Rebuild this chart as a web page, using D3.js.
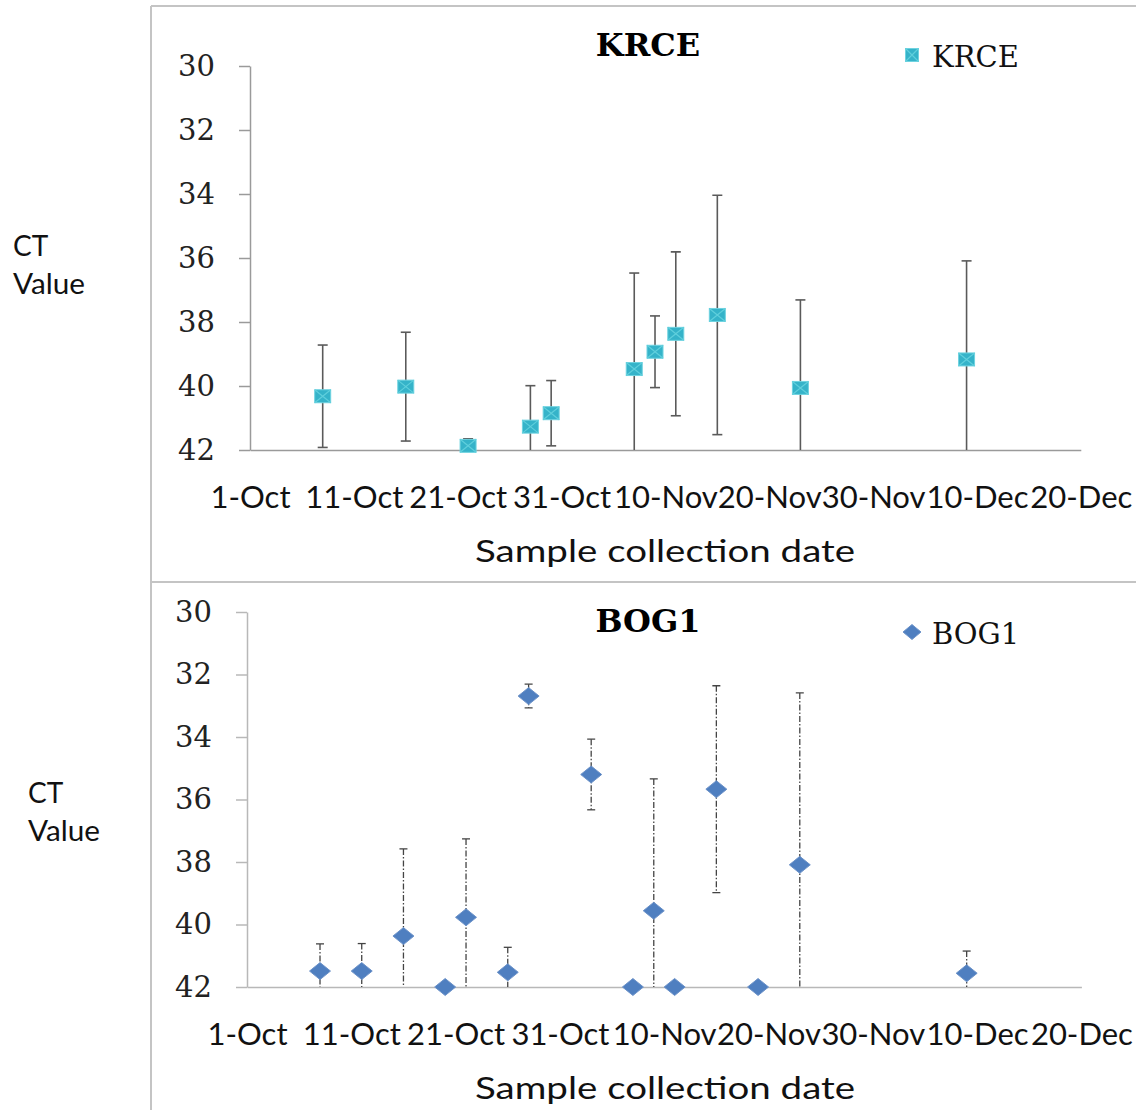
<!DOCTYPE html>
<html>
<head>
<meta charset="utf-8">
<script src="https://cdn.jsdelivr.net/npm/d3@7"></script>
<style>
  body { margin: 0; background: #fff; }
</style>
</head>
<body>
<script>
var svgWidth = 1136;
var svgHeight = 1110;

// Data
var tickLabels = ["1-Oct", "11-Oct", "21-Oct", "31-Oct", "10-Nov", "20-Nov", "30-Nov", "10-Dec", "20-Dec"];
var yTicks = [30, 32, 34, 36, 38, 40, 42];

var krceDates = ["8-Oct", "16-Oct", "22-Oct", "28-Oct", "30-Oct", "7-Nov", "9-Nov", "11-Nov", "15-Nov", "23-Nov", "9-Dec"];
var krceValues = [40.32, 40.02, 41.87, 41.27, 40.85, 39.47, 38.93, 38.37, 37.78, 40.06, 39.17];
var krceErrors = [1.6, 1.7, 0.22, 1.28, 1.02, 3.0, 1.12, 2.56, 3.74, 2.75, 3.08];

var bogDates = ["8-Oct", "12-Oct", "16-Oct", "20-Oct", "22-Oct", "26-Oct", "28-Oct", "3-Nov", "7-Nov", "9-Nov", "11-Nov", "15-Nov", "19-Nov", "23-Nov", "9-Dec"];
var bogValues = [41.49, 41.49, 40.37, 42, 39.77, 41.53, 32.69, 35.2, 42, 39.56, 42, 35.67, 42, 38.09, 41.56];
var bogErrors = [0.87, 0.88, 2.79, 0, 2.51, 0.8, 0.38, 1.13, 0, 4.22, 0, 3.31, 0, 5.5, 0.71];

var parseDate = d3.timeParse("%d-%b");
var formatDate = d3.timeFormat("%-d-%b");

var serif = "'DejaVu Serif', serif";
var sans = "Lato, 'Open Sans', sans-serif";

var svg = d3.select("body")
  .append("svg")
  .attr("width", svgWidth)
  .attr("height", svgHeight);

// panel frame lines
var frame = svg.append("g")
  .attr("stroke", "#c4c4c4")
  .attr("stroke-width", 2);
frame.append("line").attr("x1", 151).attr("x2", svgWidth).attr("y1", 6).attr("y2", 6);
frame.append("line").attr("x1", 151).attr("x2", 151).attr("y1", 6).attr("y2", svgHeight);
frame.append("line").attr("x1", 151).attr("x2", svgWidth).attr("y1", 582).attr("y2", 582);

function drawPanel(cfg) {
  var width = cfg.width;
  var height = cfg.height;

  var chartGroup = svg.append("g")
    .attr("transform", `translate(${cfg.left}, ${cfg.top})`);

  var xScale = d3.scaleTime()
    .domain([parseDate(tickLabels[0]), parseDate(tickLabels[tickLabels.length - 1])])
    .range([0, width]);

  var yScale = d3.scaleLinear()
    .domain([30, 42])
    .range([0, height]);

  // y axis
  var yAxis = chartGroup.append("g")
    .call(d3.axisLeft(yScale).tickValues(yTicks).tickSize(11).tickSizeOuter(0).tickPadding(24));
  yAxis.selectAll("path, line").attr("stroke", cfg.axisColor).attr("stroke-width", 1.5);
  yAxis.selectAll("text")
    .style("font-family", serif)
    .style("font-size", "29px")
    .attr("fill", "#222");

  // x axis
  var xAxis = chartGroup.append("g")
    .attr("transform", `translate(0, ${height})`)
    .call(d3.axisBottom(xScale)
      .tickValues(tickLabels.map(parseDate))
      .tickFormat(formatDate)
      .tickSize(0)
      .tickSizeOuter(0));
  xAxis.select(".domain").attr("stroke", cfg.axisColor).attr("stroke-width", 1.5);
  xAxis.selectAll("text")
    .attr("y", 58)
    .attr("dy", 0)
    .style("font-family", sans)
    .style("font-size", "31px")
    .attr("fill", "#111");

  // clip for error bars
  svg.append("clipPath")
    .attr("id", cfg.id + "-clip")
    .append("rect")
    .attr("x", -5)
    .attr("y", -5)
    .attr("width", width + 10)
    .attr("height", height + 5);

  var points = cfg.dates.map(function(d, i) {
    return { date: parseDate(d), value: cfg.values[i], err: cfg.errors[i] };
  });

  var bars = chartGroup.append("g")
    .attr("clip-path", `url(#${cfg.id}-clip)`)
    .attr("stroke", cfg.barColor)
    .attr("stroke-width", cfg.barWidth)
    .selectAll("g")
    .data(points.filter(d => d.err > 0))
    .enter()
    .append("g");

  bars.append("line")
    .attr("x1", d => xScale(d.date))
    .attr("x2", d => xScale(d.date))
    .attr("y1", d => yScale(d.value - d.err))
    .attr("y2", d => yScale(d.value + d.err))
    .attr("stroke-dasharray", cfg.dash);

  [-1, 1].forEach(function(s) {
    bars.append("line")
      .attr("x1", d => xScale(d.date) - cfg.cap)
      .attr("x2", d => xScale(d.date) + cfg.cap)
      .attr("y1", d => yScale(d.value + s * d.err))
      .attr("y2", d => yScale(d.value + s * d.err));
  });

  // markers
  var marks = chartGroup.selectAll(".mark")
    .data(points)
    .enter()
    .append("g")
    .classed("mark", true)
    .attr("transform", d => `translate(${xScale(d.date)}, ${yScale(d.value)})`);
  cfg.marker(marks);

  // title
  chartGroup.append("text")
    .attr("x", 648 - cfg.left)
    .attr("y", cfg.titleY - cfg.top)
    .attr("text-anchor", "middle")
    .style("font-family", serif)
    .style("font-weight", "bold")
    .style("font-size", "32px")
    .text(cfg.name);

  // legend
  var legend = svg.append("g")
    .attr("transform", `translate(912, ${cfg.legendY})`);
  cfg.marker(legend.append("g"), true);
  legend.append("text")
    .attr("x", 20)
    .attr("y", 12)
    .style("font-family", serif)
    .style("font-size", "29px")
    .attr("fill", "#111")
    .text(cfg.name);

  // axis labels
  var yLabel = svg.append("text")
    .style("font-family", sans)
    .style("font-size", "28px")
    .attr("fill", "#111");
  yLabel.append("tspan").attr("x", cfg.yLabelX).attr("y", cfg.yLabelY).text("CT");
  yLabel.append("tspan").attr("x", cfg.yLabelX).attr("y", cfg.yLabelY + 38)
    .attr("textLength", 72).attr("lengthAdjust", "spacingAndGlyphs").text("Value");

  chartGroup.append("text")
    .attr("x", 475 - cfg.left)
    .attr("y", height + 112)
    .attr("textLength", 380)
    .attr("lengthAdjust", "spacingAndGlyphs")
    .style("font-family", sans)
    .style("font-size", "30px")
    .attr("fill", "#111")
    .text("Sample collection date");
}

function squareMarker(sel, legend) {
  var w = legend ? 13 : 16, h = 13;
  sel.append("rect")
    .attr("x", -w / 2).attr("y", -h / 2)
    .attr("width", w).attr("height", h)
    .attr("fill", "#35b3c9")
    .attr("stroke", "#6fd3e0")
    .attr("stroke-width", 1);
  sel.append("path")
    .attr("d", `M${-w / 2},${-h / 2}L${w / 2},${h / 2}M${w / 2},${-h / 2}L${-w / 2},${h / 2}`)
    .attr("stroke", "#5fcfdc")
    .attr("stroke-width", 1.2);
}

function diamondMarker(sel, legend) {
  var w = legend ? 9 : 10.5, h = legend ? 7.5 : 8.5;
  sel.append("path")
    .attr("d", `M0,${-h}L${w},0L0,${h}L${-w},0Z`)
    .attr("fill", "#4f7fc0")
    .attr("stroke", "#6d93c9")
    .attr("stroke-width", 1);
}

drawPanel({
  id: "krce", name: "KRCE",
  left: 250, top: 66, width: 830.8, height: 384,
  dates: krceDates, values: krceValues, errors: krceErrors,
  axisColor: "#9a9a9a", barColor: "#5a5a5a", barWidth: 1.6, dash: null, cap: 5,
  marker: squareMarker,
  titleY: 56, legendY: 55,
  yLabelX: 13, yLabelY: 256
});

drawPanel({
  id: "bog", name: "BOG1",
  left: 247, top: 612, width: 834.4, height: 375,
  dates: bogDates, values: bogValues, errors: bogErrors,
  axisColor: "#b8b8b8", barColor: "#444", barWidth: 1.3, dash: "6,2,1.5,2", cap: 4,
  marker: diamondMarker,
  titleY: 632, legendY: 632,
  yLabelX: 28, yLabelY: 803
});
</script>
</body>
</html>
